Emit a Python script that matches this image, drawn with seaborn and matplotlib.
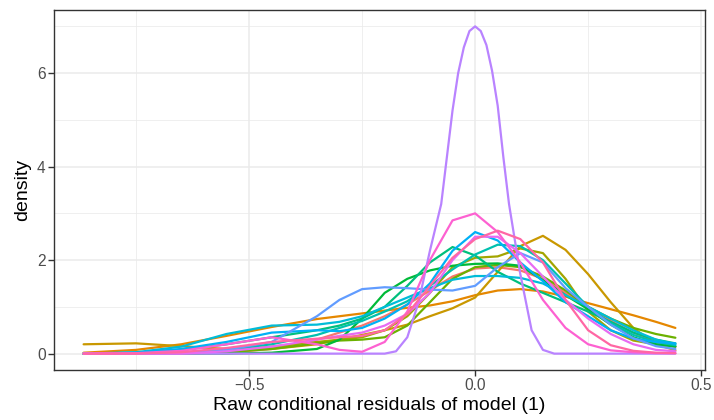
import matplotlib
matplotlib.use("Agg")
import matplotlib.pyplot as plt
import numpy as np
import pandas as pd
import seaborn as sns

# x positions (residual values) at which each density curve was read
x_grid = [-0.866, -0.75, -0.65, -0.55, -0.45, -0.35, -0.3, -0.25, -0.2, -0.15, -0.1,
          -0.05, 0.0, 0.05, 0.1, 0.15, 0.2, 0.25, 0.3, 0.35, 0.4, 0.443]

g01 = [0, 0, 0, 0.02, 0.1, 0.3, 0.45, 0.6, 0.8, 1.05, 1.35, 1.65, 1.82, 1.85, 1.78, 1.6, 1.3, 1.0, 0.7, 0.45, 0.25, 0.15]
g02 = [0.02, 0.08, 0.2, 0.38, 0.57, 0.74, 0.8, 0.86, 0.92, 0.98, 1.03, 1.12, 1.25, 1.35, 1.38, 1.33, 1.22, 1.08, 0.95, 0.82, 0.68, 0.55]
g03 = [0.2, 0.22, 0.16, 0.1, 0.1, 0.2, 0.3, 0.4, 0.5, 0.62, 0.8, 0.97, 1.2, 1.75, 2.3, 2.52, 2.22, 1.7, 1.1, 0.55, 0.2, 0.07]
g04 = [0, 0, 0.02, 0.06, 0.15, 0.25, 0.3, 0.35, 0.5, 0.8, 1.3, 1.85, 2.05, 2.08, 2.25, 2.15, 1.6, 0.9, 0.5, 0.28, 0.2, 0.15]
g05 = [0, 0, 0, 0.03, 0.1, 0.22, 0.28, 0.3, 0.35, 0.6, 1.1, 1.6, 1.85, 1.9, 1.85, 1.65, 1.35, 1.0, 0.75, 0.55, 0.42, 0.34]
g06 = [0, 0, 0, 0, 0.02, 0.1, 0.3, 0.75, 1.3, 1.6, 1.78, 1.88, 1.92, 1.93, 1.88, 1.57, 1.25, 0.95, 0.62, 0.35, 0.2, 0.15]
g07 = [0, 0.02, 0.08, 0.2, 0.35, 0.5, 0.6, 0.75, 1.0, 1.45, 1.95, 2.28, 2.1, 1.75, 1.5, 1.3, 1.1, 0.9, 0.68, 0.45, 0.3, 0.22]
g08 = [0, 0, 0.02, 0.08, 0.2, 0.4, 0.55, 0.7, 0.9, 1.12, 1.45, 1.8, 2.12, 2.33, 2.3, 2.0, 1.5, 1.0, 0.65, 0.4, 0.25, 0.18]
g09 = [0, 0.03, 0.15, 0.42, 0.6, 0.62, 0.68, 0.8, 1.0, 1.2, 1.4, 1.58, 1.66, 1.66, 1.62, 1.5, 1.25, 1.0, 0.75, 0.5, 0.3, 0.2]
g10 = [0, 0.02, 0.1, 0.25, 0.45, 0.5, 0.48, 0.55, 0.75, 1.05, 1.5, 2.2, 2.6, 2.42, 1.95, 1.55, 1.1, 0.8, 0.5, 0.32, 0.25, 0.22]
g11 = [0, 0, 0.02, 0.08, 0.25, 0.8, 1.15, 1.38, 1.42, 1.4, 1.37, 1.35, 1.45, 1.85, 2.15, 1.95, 1.4, 1.0, 0.62, 0.33, 0.16, 0.1]
g13 = [0, 0, 0, 0.05, 0.15, 0.3, 0.38, 0.45, 0.6, 0.85, 1.3, 2.0, 2.5, 2.5, 2.15, 1.65, 1.15, 0.75, 0.42, 0.2, 0.08, 0.05]
g14 = [0, 0.01, 0.06, 0.2, 0.35, 0.2, 0.08, 0.04, 0.25, 0.9, 2.0, 2.85, 3.0, 2.6, 1.95, 1.15, 0.55, 0.2, 0.07, 0.03, 0.01, 0.01]
g15 = [0, 0, 0.03, 0.12, 0.25, 0.32, 0.35, 0.38, 0.5, 0.85, 1.45, 2.05, 2.45, 2.63, 2.45, 1.95, 1.15, 0.5, 0.18, 0.06, 0.02, 0.01]

# narrow group read on its own finer grid
x_g12 = [-0.866, -0.2, -0.175, -0.15, -0.125, -0.1, -0.075, -0.0625, -0.05, -0.0375, -0.025,
         -0.0125, 0.0, 0.0125, 0.025, 0.0375, 0.05, 0.0625, 0.075, 0.1, 0.125, 0.15, 0.175, 0.443]
g12 = [0, 0, 0.05, 0.35, 1.1, 2.2, 3.2, 4.2, 5.2, 6.0, 6.55, 6.9, 7.0, 6.9, 6.6, 6.05, 5.3, 4.2, 3.2, 1.7, 0.5, 0.08, 0, 0]

colors = ["#F8766D", "#E58700", "#C99800", "#A3A500", "#6BB100", "#00BA38", "#00BF7D",
          "#00C0AF", "#00BCD8", "#00B0F6", "#619CFF", "#B983FF", "#E76BF3", "#FD61D1", "#FF67A4"]

series = [g01, g02, g03, g04, g05, g06, g07, g08, g09, g10, g11, None, g13, g14, g15]
frames = []
for i, ys in enumerate(series):
    name = str(i + 1)
    if ys is None:
        frames.append(pd.DataFrame({"x": x_g12, "density": g12, "group": name}))
    else:
        frames.append(pd.DataFrame({"x": x_grid, "density": ys, "group": name}))
df = pd.concat(frames, ignore_index=True)
order = [str(i + 1) for i in range(15)]

sns.set_theme(style="white")
plt.rcParams["font.family"] = ["Liberation Sans", "DejaVu Sans"]

fig = plt.figure(figsize=(7.14, 4.2), dpi=100)
ax = fig.add_axes([54 / 714, 50 / 420, 651 / 714, 360 / 420])
ax.set_facecolor("white")

sns.lineplot(data=df, x="x", y="density", hue="group", hue_order=order,
             palette=colors, estimator=None, sort=False, legend=False,
             linewidth=1.6, ax=ax, zorder=3)
for ln in ax.get_lines():
    ln.set_solid_joinstyle("round")

ax.set_xlim(-0.9315, 0.5085)
ax.set_ylim(-0.35, 7.35)
ax.set_xticks([-0.5, 0.0, 0.5])
ax.set_xticklabels(["\u22120.5", "0.0", "0.5"])
ax.set_yticks([0, 2, 4, 6])
ax.set_yticklabels(["0", "2", "4", "6"])
ax.set_xticks([-0.75, -0.25, 0.25], minor=True)
ax.set_yticks([1, 3, 5, 7], minor=True)
ax.grid(which="major", color="#EBEBEB", linewidth=1.1, zorder=0)
ax.grid(which="minor", color="#EBEBEB", linewidth=0.55, zorder=0)
ax.set_axisbelow(True)
for s in ax.spines.values():
    s.set_color("#333333")
    s.set_linewidth(1.0)
ax.tick_params(which="major", length=4, width=1.0, color="#333333",
               labelsize=11.2, labelcolor="#4D4D4D", pad=2, bottom=True, left=True)
ax.tick_params(which="minor", length=0)
ax.set_xlabel("Raw conditional residuals of model (1)", fontsize=14, color="black", labelpad=3)
ax.set_ylabel("density", fontsize=14, color="black", labelpad=4)

fig.savefig("out.png", dpi=100, facecolor="white")
